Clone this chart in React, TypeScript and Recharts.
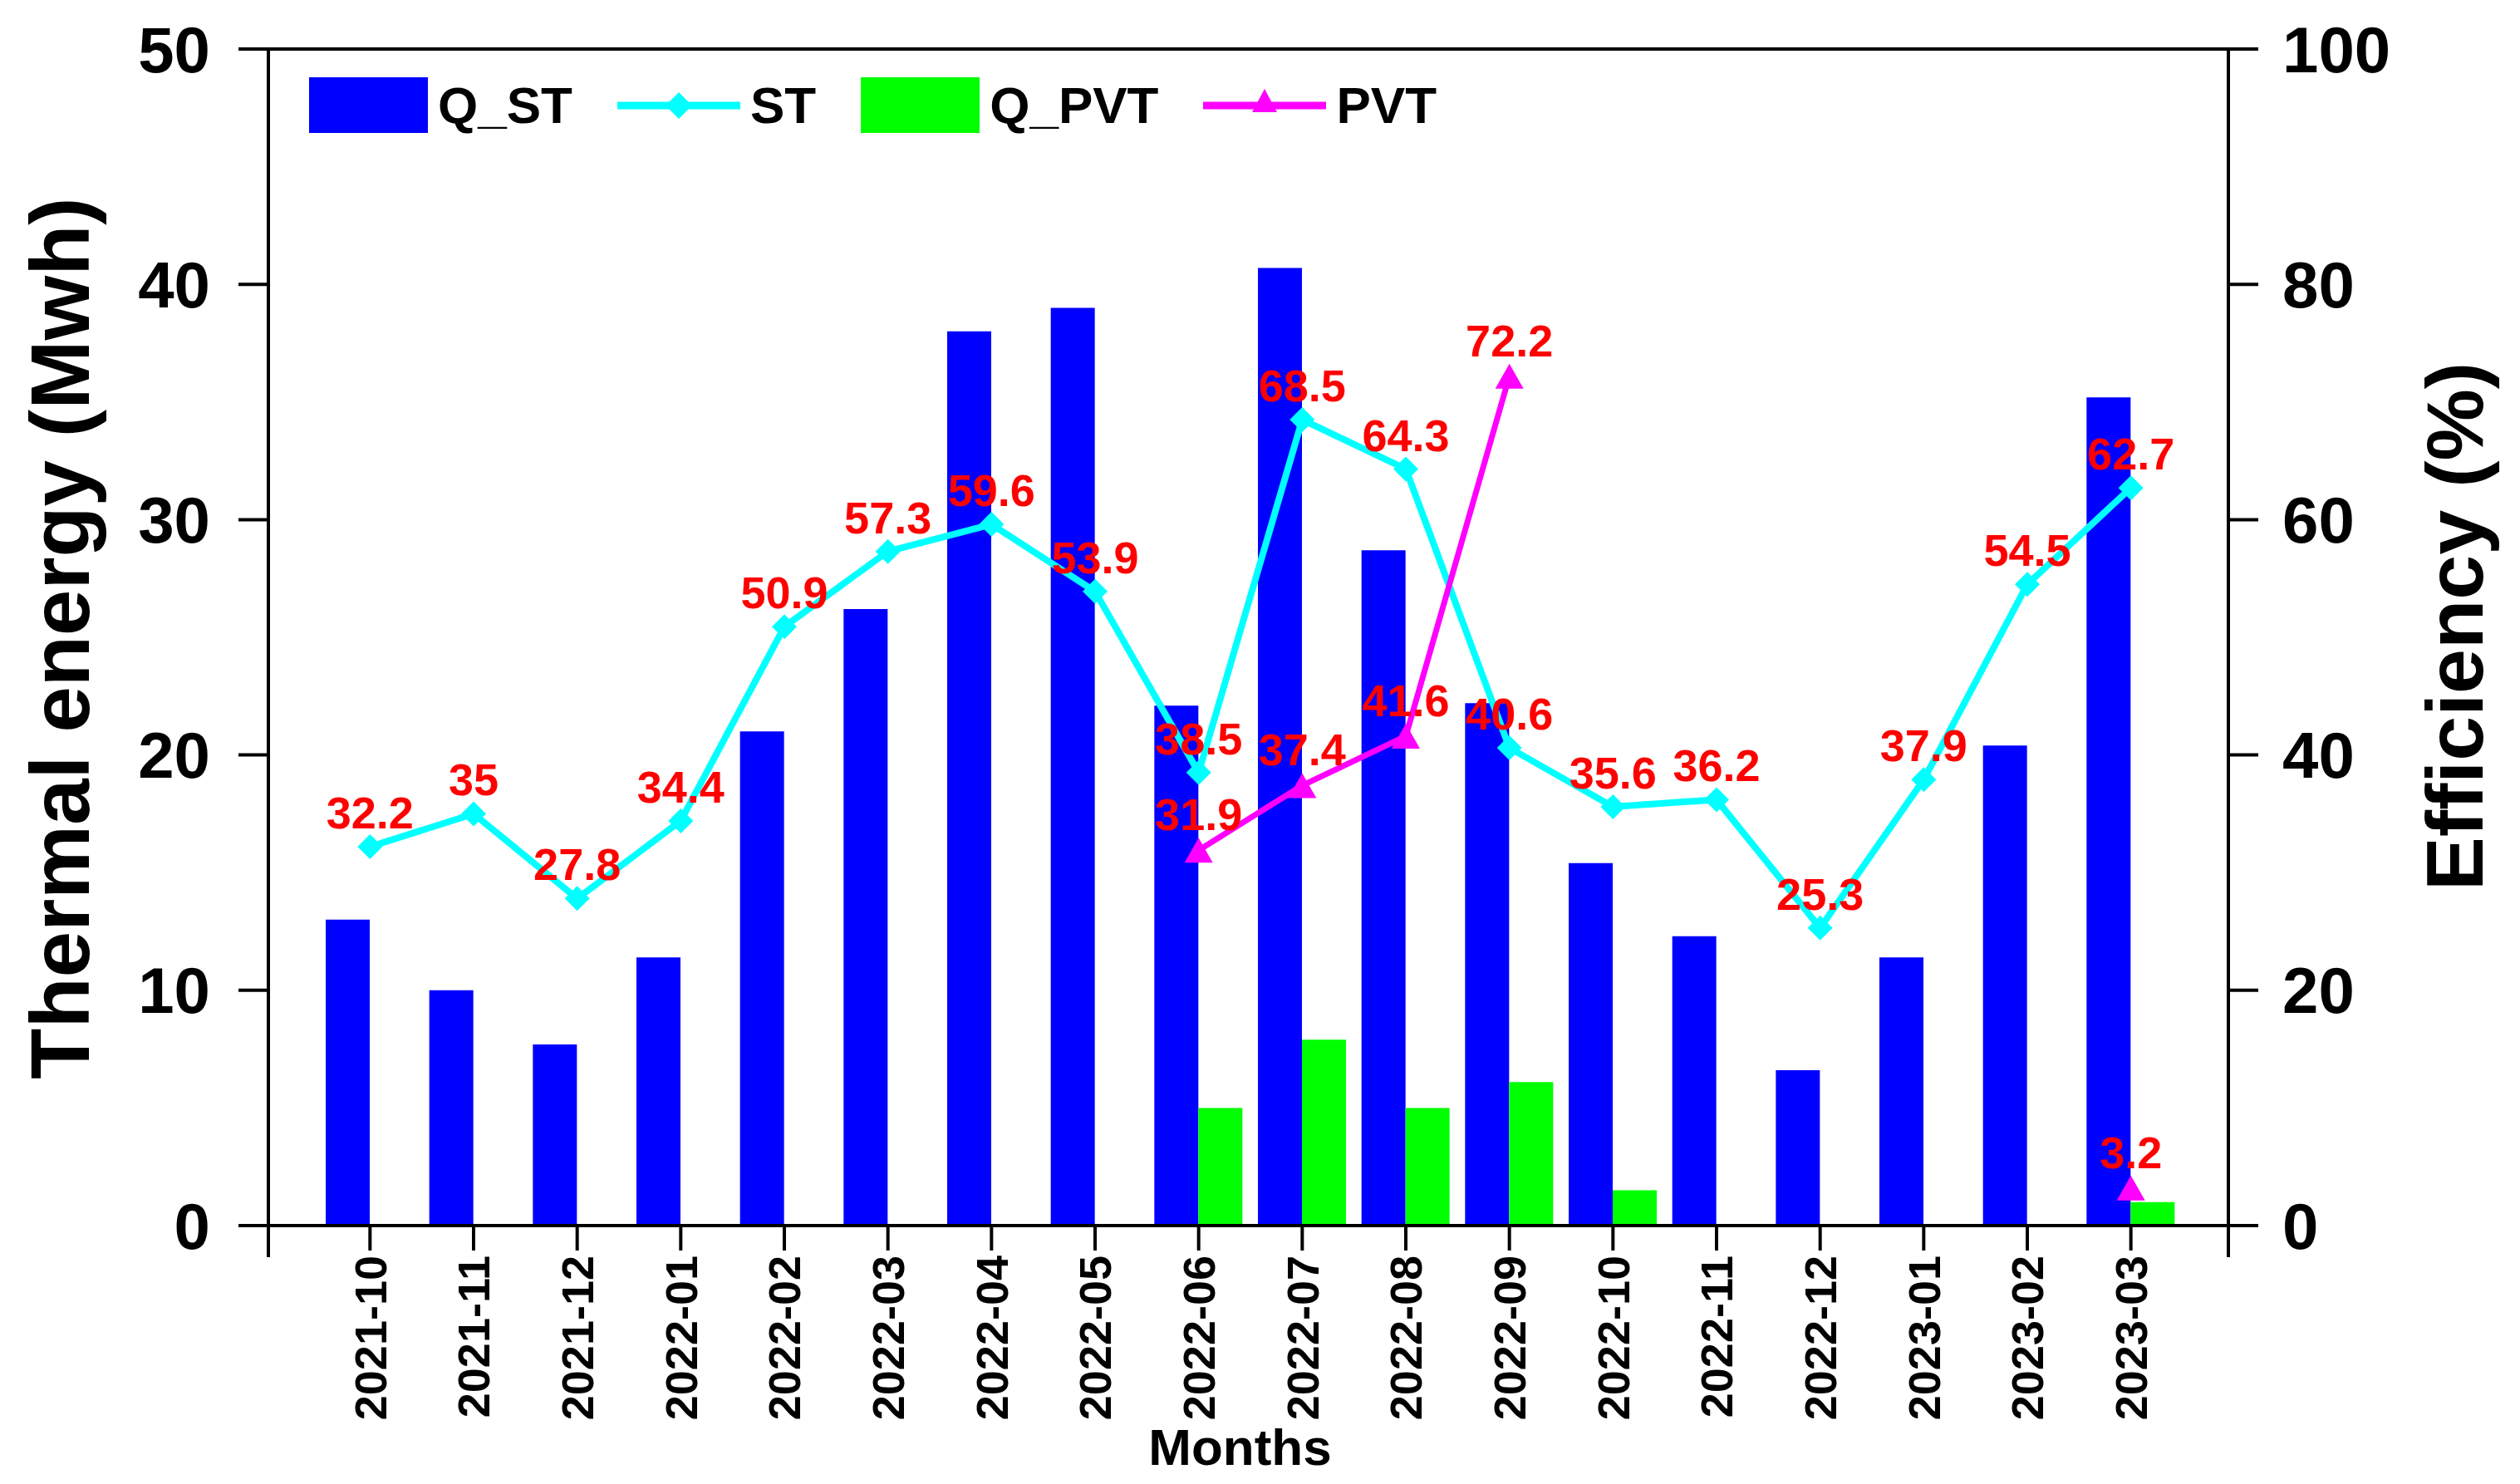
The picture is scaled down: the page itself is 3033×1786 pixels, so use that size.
import { ComposedChart, Bar, Line, XAxis, YAxis, ReferenceLine, LabelList, Legend, Label } from "recharts";

const months = [
  "2021-10", "2021-11", "2021-12", "2022-01", "2022-02", "2022-03", "2022-04", "2022-05", "2022-06",
  "2022-07", "2022-08", "2022-09", "2022-10", "2022-11", "2022-12", "2023-01", "2023-02", "2023-03",
];
const qSt = [13.0, 10.0, 7.7, 11.4, 21.0, 26.2, 38.0, 39.0, 22.1, 40.7, 28.7, 22.2, 15.4, 12.3, 6.6, 11.4, 20.4, 35.2];
const qPvt = [null, null, null, null, null, null, null, null, 5.0, 7.9, 5.0, 6.1, 1.5, null, null, null, null, 1.0];
const stEff = [32.2, 35, 27.8, 34.4, 50.9, 57.3, 59.6, 53.9, 38.5, 68.5, 64.3, 40.6, 35.6, 36.2, 25.3, 37.9, 54.5, 62.7];
const pvtEff = [null, null, null, null, null, null, null, null, 31.9, 37.4, 41.6, 72.2, null, null, null, null, null, 3.2];

const energyTicks = [0, 10, 20, 30, 40, 50];
const efficiencyTicks = [0, 20, 40, 60, 80, 100];
const seriesOrder = ["Q_ST", "ST", "Q_PVT", "PVT"];

const data = months.map((month, i) => ({
  month,
  Q_ST: qSt[i],
  Q_PVT: qPvt[i],
  ST: stEff[i],
  PVT: pvtEff[i],
}));

const FONT = '"Liberation Sans", Arial, Helvetica, sans-serif';
const BLUE = "#0000FF";
const GREEN = "#00FF00";
const CYAN = "#00FFFF";
const MAGENTA = "#FF00FF";
const RED = "#FF0000";

const diamondPoints = (cx: number, cy: number, r: number) =>
  `${cx},${cy - r} ${cx + r},${cy} ${cx},${cy + r} ${cx - r},${cy}`;
const trianglePoints = (cx: number, cy: number, w: number, h: number) =>
  `${cx},${cy - h / 2} ${cx + w / 2},${cy + h / 2} ${cx - w / 2},${cy + h / 2}`;

const DiamondDot = (props: any) => {
  const { cx, cy, index } = props;
  if (cx == null || cy == null) return <g key={`sd-${index}`} />;
  return <polygon key={`sd-${index}`} points={diamondPoints(cx, cy, 15)} fill={CYAN} />;
};

const TriangleDot = (props: any) => {
  const { cx, cy, index } = props;
  if (cx == null || cy == null) return <g key={`pt-${index}`} />;
  return <polygon key={`pt-${index}`} points={trianglePoints(cx, cy, 34, 30)} fill={MAGENTA} />;
};

const MonthTick = (props: any) => {
  const { x, y, payload } = props;
  return (
    <text
      x={x}
      y={y}
      dy="0.36em"
      transform={`rotate(-90, ${x}, ${y})`}
      textAnchor="end"
      fontFamily={FONT}
      fontWeight="bold"
      fontSize={54}
      fill="#000"
    >
      {payload.value}
    </text>
  );
};

const LegendIcon = ({ name, color }: { name: string; color: string }) => {
  if (name === "Q_ST" || name === "Q_PVT") {
    return <div style={{ width: 143, height: 67, background: color }} />;
  }
  return (
    <svg width={148} height={40} style={{ display: "block" }}>
      <line x1={0} y1={20} x2={148} y2={20} stroke={color} strokeWidth={9} />
      {name === "ST" ? (
        <polygon points={diamondPoints(74, 20, 16)} fill={color} />
      ) : (
        <polygon points={trianglePoints(74, 14, 30, 28)} fill={color} />
      )}
    </svg>
  );
};

const LegendContent = (props: any) => {
  const items = [...(props.payload ?? [])].sort(
    (a: any, b: any) => seriesOrder.indexOf(a.value) - seriesOrder.indexOf(b.value)
  );
  return (
    <div
      style={{
        display: "flex",
        alignItems: "center",
        fontFamily: FONT,
        fontWeight: "bold",
        fontSize: 62,
        lineHeight: 1,
        color: "#000",
        whiteSpace: "nowrap",
      }}
    >
      {items.map((entry: any, i: number) => (
        <div key={entry.value} style={{ display: "flex", alignItems: "center", marginLeft: i === 0 ? 0 : 54 }}>
          <LegendIcon name={entry.value} color={entry.color} />
          <span style={{ marginLeft: 12 }}>{entry.value}</span>
        </div>
      ))}
    </div>
  );
};

const XAxisExtras = (props: any) => {
  const vb = props.viewBox || {};
  const { x = 0, y = 0, width = 0 } = vb;
  return (
    <g>
      <line x1={x} y1={y} x2={x} y2={y + 38} stroke="#000" strokeWidth={4} />
      <line x1={x + width} y1={y} x2={x + width} y2={y + 38} stroke="#000" strokeWidth={4} />
      <text x={x + width / 2 - 10} y={1763} textAnchor="middle" fontFamily={FONT} fontWeight="bold" fontSize={62} fill="#000">
        Months
      </text>
    </g>
  );
};

const LeftTitle = () => (
  <text x={107} y={768} transform="rotate(-90, 107, 768)" textAnchor="middle" fontFamily={FONT} fontWeight="bold" fontSize={100} fill="#000">
    Thermal energy (Mwh)
  </text>
);

const RightTitle = () => (
  <text x={2988} y={754} transform="rotate(-90, 2988, 754)" textAnchor="middle" fontFamily={FONT} fontWeight="bold" fontSize={97} fill="#000">
    Efficiency (%)
  </text>
);

const axisLine = { stroke: "#000", strokeWidth: 4 };
const tickStyle = { fill: "#000", fontSize: 78, fontWeight: "bold", fontFamily: FONT };
const labelStyle = { fill: RED, fontSize: 54, fontWeight: "bold", fontFamily: FONT };

const App = () => {
  return (
    <div style={{ width: 3033, height: 1786, background: "#fff" }}>
      <style>{"body{margin:0}"}</style>
      <ComposedChart width={3033} height={1786} data={data} margin={{ top: 59, right: 0, bottom: 0, left: 0 }} barGap={0}>
        <XAxis
          dataKey="month"
          xAxisId="x"
          height={311}
          interval={0}
          padding={{ left: 60, right: 55 }}
          axisLine={axisLine}
          tickLine={axisLine}
          tickSize={30}
          tickMargin={6}
          tick={<MonthTick />}
        >
          <Label content={<XAxisExtras />} />
        </XAxis>
        <YAxis
          yAxisId="left"
          orientation="left"
          width={323}
          domain={[0, 50]}
          ticks={energyTicks}
          interval={0}
          axisLine={axisLine}
          tickLine={axisLine}
          tickSize={36}
          tickMargin={34}
          tick={tickStyle}
        >
          <Label content={<LeftTitle />} />
        </YAxis>
        <YAxis
          yAxisId="right"
          orientation="right"
          width={351}
          domain={[0, 100]}
          ticks={efficiencyTicks}
          interval={0}
          axisLine={axisLine}
          tickLine={axisLine}
          tickSize={36}
          tickMargin={29}
          tick={tickStyle}
        >
          <Label content={<RightTitle />} />
        </YAxis>
        <ReferenceLine y={50} yAxisId="left" xAxisId="x" stroke="#000" strokeWidth={4} />
        <Legend
          layout="vertical"
          align="center"
          verticalAlign="middle"
          content={<LegendContent />}
          wrapperStyle={{ left: 372, top: 93, width: "auto", height: 67 }}
        />
        <Bar dataKey="Q_ST" name="Q_ST" xAxisId="x" yAxisId="left" fill={BLUE} barSize={53} isAnimationActive={false} />
        <Bar dataKey="Q_PVT" name="Q_PVT" xAxisId="x" yAxisId="left" fill={GREEN} barSize={53} isAnimationActive={false} />
        <Line
          dataKey="ST"
          name="ST"
          xAxisId="x"
          yAxisId="right"
          stroke={CYAN}
          strokeWidth={8}
          type="linear"
          dot={DiamondDot}
          activeDot={false}
          isAnimationActive={false}
        >
          <LabelList dataKey="ST" position="top" offset={22} {...labelStyle} />
        </Line>
        <Line
          dataKey="PVT"
          name="PVT"
          xAxisId="x"
          yAxisId="right"
          stroke={MAGENTA}
          strokeWidth={7}
          type="linear"
          dot={TriangleDot}
          activeDot={false}
          connectNulls={false}
          isAnimationActive={false}
        >
          <LabelList dataKey="PVT" position="top" offset={24} {...labelStyle} />
        </Line>
      </ComposedChart>
    </div>
  );
};

export default App;
